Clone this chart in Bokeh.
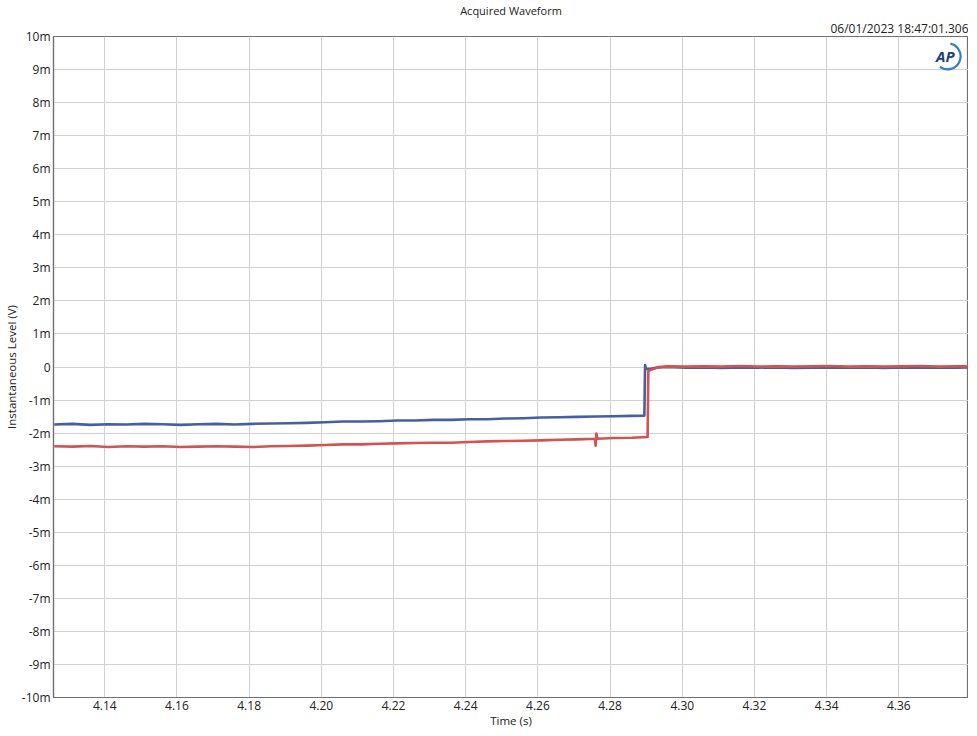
from bokeh.plotting import figure
from bokeh.models import Range1d, FixedTicker, Title, CustomJSTickFormatter, NumeralTickFormatter
from bokeh.embed import file_html
from bokeh.resources import INLINE
from bokeh.core.properties import value

# ---- data (time in s, level in mV) ----
time_blue = [4.126, 4.131, 4.136, 4.141, 4.146, 4.151, 4.156, 4.161, 4.166, 4.171,
             4.176, 4.181, 4.186, 4.191, 4.196, 4.201, 4.206, 4.211, 4.216, 4.221,
             4.226, 4.231, 4.236, 4.241, 4.246, 4.251, 4.256, 4.261, 4.266, 4.271,
             4.276, 4.281, 4.286, 4.2895, 4.2897, 4.2900, 4.2915, 4.2935, 4.296,
             4.301, 4.306, 4.311, 4.316, 4.321, 4.326, 4.331, 4.336, 4.341, 4.346,
             4.351, 4.356, 4.361, 4.366, 4.371, 4.376, 4.3793]
level_blue = [-1.74, -1.72, -1.75, -1.73, -1.74, -1.72, -1.73, -1.75, -1.73, -1.72,
              -1.74, -1.72, -1.71, -1.70, -1.69, -1.67, -1.65, -1.65, -1.64, -1.62,
              -1.62, -1.60, -1.60, -1.58, -1.58, -1.56, -1.55, -1.53, -1.52, -1.51,
              -1.50, -1.49, -1.48, -1.47, 0.06, -0.06, -0.05, -0.01, 0.00,
              -0.02, -0.01, -0.03, -0.01, -0.02, -0.01, -0.03, -0.02, -0.01, -0.02,
              -0.01, -0.03, -0.01, -0.02, -0.01, -0.02, -0.01]

time_red = [4.126, 4.131, 4.136, 4.141, 4.146, 4.151, 4.156, 4.161, 4.166, 4.171,
            4.176, 4.181, 4.186, 4.191, 4.196, 4.201, 4.206, 4.211, 4.216, 4.221,
            4.226, 4.231, 4.236, 4.241, 4.246, 4.251, 4.256, 4.261, 4.266, 4.271,
            4.2758, 4.2760, 4.2762, 4.2765, 4.281, 4.286, 4.2904, 4.2906, 4.2915,
            4.2935, 4.296, 4.301, 4.306, 4.311, 4.316, 4.321, 4.326, 4.331, 4.336,
            4.341, 4.346, 4.351, 4.356, 4.361, 4.366, 4.371, 4.376, 4.3793]
level_red = [-2.40, -2.41, -2.39, -2.42, -2.40, -2.41, -2.40, -2.42, -2.41, -2.40,
             -2.41, -2.42, -2.40, -2.39, -2.38, -2.36, -2.34, -2.34, -2.32, -2.31,
             -2.30, -2.29, -2.29, -2.27, -2.25, -2.24, -2.23, -2.22, -2.20, -2.19,
             -2.17, -2.38, -2.01, -2.17, -2.15, -2.14, -2.12, -0.12, -0.08,
             0.00, 0.02, 0.01, 0.02, 0.01, 0.03, 0.01, 0.02, 0.01, 0.02,
             0.03, 0.01, 0.02, 0.01, 0.02, 0.03, 0.01, 0.02, 0.02]

x_ticks = [4.14, 4.16, 4.18, 4.20, 4.22, 4.24, 4.26, 4.28, 4.30, 4.32, 4.34, 4.36]
y_ticks = [-10, -9, -8, -7, -6, -5, -4, -3, -2, -1, 0, 1, 2, 3, 4, 5, 6, 7, 8, 9, 10]

FONT = "Open Sans"
TXT = "#222222"

p = figure(frame_width=915, frame_height=661, output_backend="svg", toolbar_location=None,
           x_range=Range1d(4.1258, 4.3793), y_range=Range1d(-10, 10),
           min_border_left=40, min_border_right=0, min_border_top=0, min_border_bottom=0)
p.background_fill_color = "white"
p.border_fill_color = "white"
p.outline_line_color = "#707070"
p.outline_line_width = 1.2

# titles (later "above" items sit closer to the frame)
p.title.text = "Acquired Waveform"
p.title.align = "center"
p.title.text_font = FONT
p.title.text_font_size = "11px"
p.title.text_font_style = "normal"
p.title.text_color = TXT
p.title.standoff = 0
p.title.text_line_height = 1.0
p.add_layout(Title(text="06/01/2023 18:47:01.306", align="right", text_font=FONT,
                   text_font_size="12px", text_font_style="normal", text_color=TXT,
                   standoff=0, text_line_height=1.0), "above")

# axes
p.xaxis.ticker = FixedTicker(ticks=x_ticks)
p.xaxis.formatter = NumeralTickFormatter(format="0.00")
p.yaxis.ticker = FixedTicker(ticks=y_ticks)
p.yaxis.formatter = CustomJSTickFormatter(code="return tick == 0 ? '0' : tick + 'm';")
p.xaxis.axis_label = "Time (s)"
p.yaxis.axis_label = "Instantaneous Level (V)"
for ax in (p.xaxis[0], p.yaxis[0]):
    ax.axis_line_color = "#707070"
    ax.axis_line_width = 1.2
    ax.major_tick_line_color = None
    ax.minor_tick_line_color = None
    ax.major_tick_out = 0
    ax.major_tick_in = 0
    ax.major_label_text_font = FONT
    ax.major_label_text_font_size = "12px"
    ax.major_label_text_color = TXT
    ax.axis_label_text_font = FONT
    ax.axis_label_text_font_size = "11.5px"
    ax.axis_label_text_font_style = "normal"
    ax.axis_label_text_color = TXT
    ax.axis_label_standoff = 0
p.xaxis.major_label_standoff = 3
p.yaxis.major_label_standoff = 3

p.xgrid.grid_line_color = "#d2d2d2"
p.ygrid.grid_line_color = "#d2d2d2"

# traces
p.line(time_blue, level_blue, line_color="#475f9f", line_width=2.6, line_join="round")
p.line(time_red, level_red, line_color="#d45252", line_width=2.6, line_join="round")

# AP logo
p.arc(x=[4.3735], y=[9.4], radius=13, radius_units="screen",
      start_angle=-2.2, end_angle=1.35, direction="anticlock",
      line_color="#2f80c8", line_width=2.2)
p.text(x=[4.3729], y=[9.4], text=["AP"], text_font=value(FONT), text_font_size="15px",
       text_font_style="bold italic", text_color="#1c3f7e",
       text_align="center", text_baseline="middle")

open("out.html", "w").write(file_html(p, INLINE))
